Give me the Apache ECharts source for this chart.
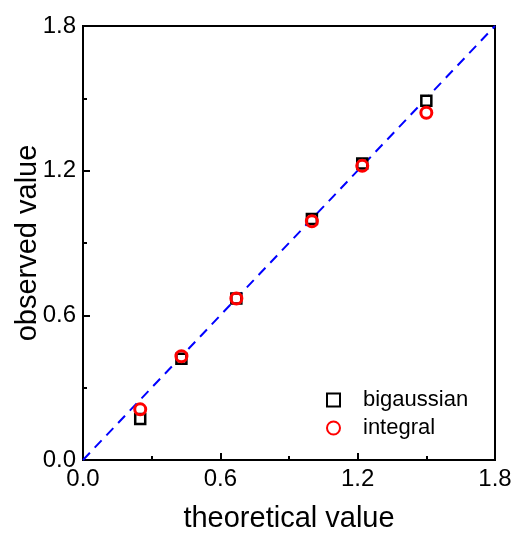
<!DOCTYPE html>
<html>
<head>
<meta charset="utf-8">
<script src="https://cdn.jsdelivr.net/npm/echarts@6/dist/echarts.min.js"></script>
<style>
  html, body { margin: 0; padding: 0; background: #fff; }
  #chart { width: 515px; height: 536px; }
</style>
</head>
<body>
<div id="chart"></div>
<script>
// theoretical values (x) and observed values for each method
const theoretical = [0.25, 0.43, 0.67, 1.0, 1.22, 1.5];
const bigaussian = [0.17, 0.42, 0.67, 1.0, 1.23, 1.49];
const integral = [0.21, 0.43, 0.67, 0.99, 1.22, 1.44];
const refLine = [0, 1.8];

const chart = echarts.init(document.getElementById('chart'));

const font = 'Arial, "Liberation Sans", sans-serif';

const axisCommon = {
    type: 'value',
    min: 0,
    max: 1.8,
    interval: 0.6,
    nameLocation: 'middle',
    nameMoveOverlap: false,
    nameTextStyle: { fontSize: 29, color: '#000', fontFamily: font },
    axisLine: { show: true, lineStyle: { color: '#000', width: 2 } },
    axisTick: { show: true, inside: true, length: 7, lineStyle: { color: '#000', width: 2 } },
    minorTick: { show: true, splitNumber: 2, length: 4, lineStyle: { color: '#000', width: 2 } },
    axisLabel: {
        fontSize: 24, color: '#000', fontFamily: font, margin: 7,
        formatter: v => v.toFixed(1)
    },
    splitLine: { show: false }
};

const option = {
    animation: false,
    backgroundColor: '#fff',
    grid: {
        left: 83, right: 20, top: 26, bottom: 76,
        outerBoundsMode: 'none',
        show: true, borderColor: '#000', borderWidth: 2
    },
    xAxis: Object.assign({}, axisCommon, { name: 'theoretical value', nameGap: 44 }),
    yAxis: Object.assign({}, axisCommon, { name: 'observed value', nameGap: 41 }),
    legend: {
        orient: 'vertical',
        left: 321,
        top: 384,
        itemWidth: 13,
        itemHeight: 13,
        itemGap: 6,
        textStyle: { fontSize: 22, color: '#000', fontFamily: font, padding: [0, 0, 0, 18] },
        data: ['bigaussian', 'integral']
    },
    series: [
        {
            name: 'fit',
            type: 'line',
            data: refLine.map(v => [v, v]),
            symbol: 'none',
            lineStyle: { color: '#0000ff', width: 2, type: [10, 7] },
            z: 1
        },
        {
            name: 'bigaussian',
            type: 'scatter',
            data: theoretical.map((x, i) => [x, bigaussian[i]]),
            symbol: 'rect',
            symbolSize: 10,
            itemStyle: { color: '#fff', borderColor: '#000', borderWidth: 2.5, opacity: 1 },
            z: 2
        },
        {
            name: 'integral',
            type: 'scatter',
            data: theoretical.map((x, i) => [x, integral[i]]),
            symbol: 'circle',
            symbolSize: 11,
            itemStyle: { color: 'rgba(255,255,255,0)', borderColor: '#ff0000', borderWidth: 3, opacity: 1 },
            z: 3
        }
    ]
};

chart.setOption(option);
</script>
</body>
</html>
